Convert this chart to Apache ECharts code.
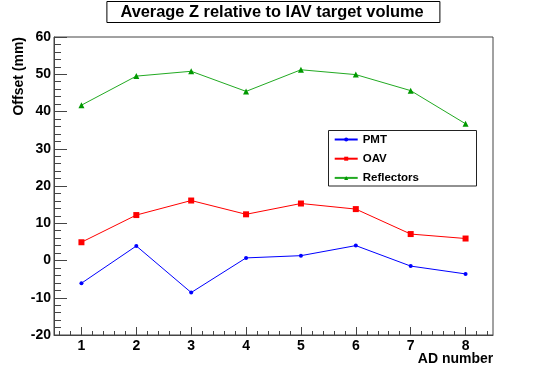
<!DOCTYPE html>
<html>
<head>
<meta charset="utf-8">
<script src="https://cdn.jsdelivr.net/npm/echarts@6/dist/echarts.min.js"></script>
<style>html,body{margin:0;padding:0;background:#fff;}#c{width:548px;height:373px;}</style>
</head>
<body>
<div id="c"></div>
<script>
const adNumbers = [1, 2, 3, 4, 5, 6, 7, 8];
const pmt = [-6.1, 3.9, -8.6, 0.7, 1.3, 4.0, -1.5, -3.6];
const oav = [4.9, 12.2, 16.1, 12.4, 15.3, 13.8, 7.1, 5.9];
const reflectors = [41.7, 49.5, 50.8, 45.4, 51.2, 49.9, 45.6, 36.7];
const xTickLabels = [1, 2, 3, 4, 5, 6, 7, 8];
const titleText = 'Average Z relative to IAV target volume';
const yName = 'Offset (mm)';
const xName = 'AD number';

const X_MIN = 0.5, X_MAX = 8.5;
const minorX = [];
for (let i = 6; i <= 84; i += 2) {
  if (i % 10 !== 0) minorX.push(i / 10);
}

const font = 'Liberation Sans, Arial, Helvetica, sans-serif';
const axisColor = '#444';

const chart = echarts.init(document.getElementById('c'), null, {renderer: 'canvas'});
const pair = a => adNumbers.map((x, i) => [x, a[i]]);

chart.setOption({
  animation: false,
  backgroundColor: '#fff',
  title: {
    text: titleText,
    left: 107,
    top: 1,
    padding: [3, 16.5, 2.5, 13.4],
    borderWidth: 1,
    borderColor: '#000',
    textStyle: {fontFamily: font, fontWeight: 'bold', fontSize: 16.4, color: '#000', lineHeight: 16}
  },
  grid: {
    left: 54, right: 55, top: 37, bottom: 38,
    show: true, borderColor: axisColor, borderWidth: 1, backgroundColor: 'transparent'
  },
  legend: {
    orient: 'vertical',
    left: 328, top: 130,
    padding: [3.5, 5, 3.5, 5.7],
    itemWidth: 23, itemHeight: 5, itemGap: 7.2, itemTextGap: 9,
    borderWidth: 0,
    textStyle: {fontFamily: font, fontWeight: 'bold', fontSize: 11.5, color: '#000'},
    data: ['PMT', 'OAV', 'Reflectors']
  },
  xAxis: [{
    type: 'value', min: X_MIN, max: X_MAX, gridIndex: 0, position: 'bottom',
    axisLine: {show: true, onZero: false, lineStyle: {color: axisColor, width: 1}},
    axisTick: {show: true, inside: true, length: 8, customValues: xTickLabels, lineStyle: {color: axisColor}},
    axisLabel: {customValues: xTickLabels, margin: 4, fontFamily: font, fontWeight: 'bold', fontSize: 14, color: '#000'},
    splitLine: {show: false}
  }, {
    type: 'value', min: X_MIN, max: X_MAX, gridIndex: 0, position: 'bottom',
    axisLine: {show: false, onZero: false},
    axisTick: {show: true, inside: true, length: 4, customValues: minorX, lineStyle: {color: axisColor}},
    axisLabel: {show: false},
    splitLine: {show: false}
  }],
  yAxis: {
    type: 'value', min: -20, max: 60, interval: 10,
    axisLine: {show: true, onZero: false, lineStyle: {color: axisColor, width: 1}},
    axisTick: {show: true, inside: true, length: 13, lineStyle: {color: axisColor}},
    minorTick: {show: true, splitNumber: 5, length: 7, lineStyle: {color: axisColor}},
    axisLabel: {margin: 3, fontFamily: font, fontWeight: 'bold', fontSize: 14, color: '#000'},
    splitLine: {show: false},
    minorSplitLine: {show: false}
  },
  graphic: [{
    type: 'rect', z: 0, silent: true,
    shape: {x: 328.5, y: 130.5, width: 148, height: 55.5},
    style: {fill: '#fff', stroke: '#222', lineWidth: 1}
  }, {
    type: 'text', x: 493.3, y: 359,
    style: {text: xName, align: 'right', verticalAlign: 'middle', font: 'bold 14px ' + font, fill: '#000'}
  }, {
    type: 'text', x: 19, y: 37, rotation: Math.PI / 2,
    style: {text: yName, align: 'right', verticalAlign: 'middle', font: 'bold 14px ' + font, fill: '#000'}
  }],
  series: [{
    name: 'PMT', type: 'line', data: pair(pmt), z: 3,
    symbol: 'circle', symbolSize: 4,
    itemStyle: {color: '#0000ff'}, lineStyle: {color: '#0000ff', width: 1}
  }, {
    name: 'OAV', type: 'line', data: pair(oav), z: 3,
    symbol: 'rect', symbolSize: 6,
    itemStyle: {color: '#ff0000'}, lineStyle: {color: '#ff0000', width: 1}
  }, {
    name: 'Reflectors', type: 'line', data: pair(reflectors), z: 3,
    symbol: 'triangle', symbolSize: 6,
    itemStyle: {color: '#009900'}, lineStyle: {color: '#22aa22', width: 1}
  }]
});
</script>
</body>
</html>
